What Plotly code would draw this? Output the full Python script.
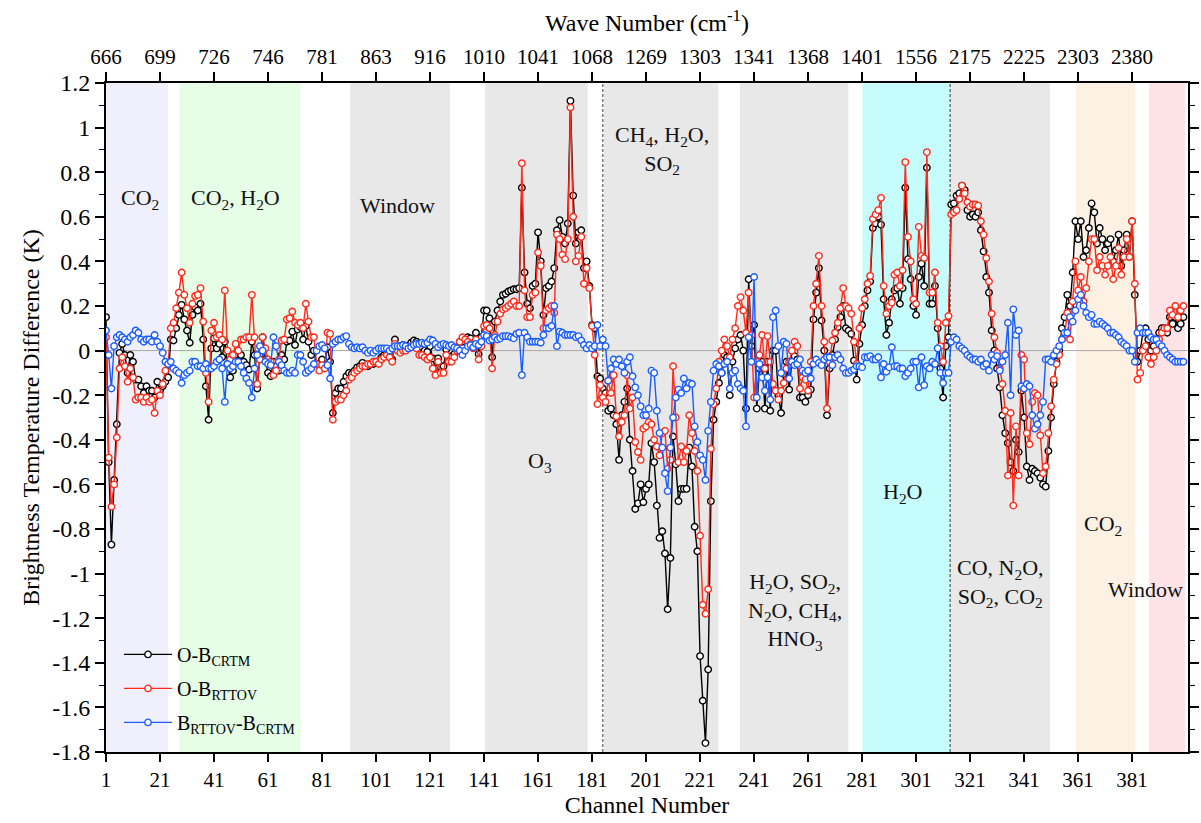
import plotly.graph_objects as go

channels = list(range(1, 401))

ob_crtm = [
    0.15, -0.50, -0.87, -0.58, -0.33, -0.01, 0.03, -0.02, -0.10, -0.02,
    -0.05, -0.13, -0.13, -0.16, -0.19, -0.16, -0.18, -0.18, -0.21, -0.14,
    -0.18, -0.16, -0.14, -0.12, 0.05, 0.045, 0.10, 0.16, 0.205, 0.14,
    0.09, 0.035, 0.16, 0.195, 0.18, 0.21, 0.05, -0.16, -0.31, 0.01,
    0.055, 0.01, 0.03, -0.03, 0.04, -0.06, -0.12, -0.09, -0.02, -0.05,
    -0.02, -0.05, -0.065, -0.085, 0.04, -0.02, -0.17, -0.02, 0.06, -0.04,
    -0.10, -0.115, -0.05, -0.07, -0.09, -0.02, -0.04, 0.04, 0.045, 0.085,
    0.025, 0.095, 0.105, 0.05, 0.11, 0.04, -0.02, 0.0, -0.06, -0.07,
    -0.04, -0.07, 0.015, -0.05, -0.28, -0.19, -0.17, -0.17, -0.14, -0.115,
    -0.10, -0.105, -0.09, -0.075, -0.07, -0.055, -0.07, -0.07, -0.06, -0.06,
    -0.05, -0.05, -0.03, -0.02, -0.01, -0.03, -0.04, 0.05, 0.02, 0.01,
    0.025, 0.02, 0.02, 0.035, 0.045, 0.04, 0.01, 0.015, 0.0, -0.005,
    0.02, -0.035, -0.08, -0.035, -0.075, -0.07, 0.005, -0.03, -0.025, -0.015,
    0.01, 0.04, 0.04, 0.05, 0.06, 0.055, 0.025, 0.08, -0.015, 0.06,
    0.18, 0.18, 0.145, -0.03, 0.13, 0.18, 0.22, 0.25, 0.255, 0.265,
    0.27, 0.275, 0.275, 0.28, 0.73, 0.35, 0.21, 0.19, 0.29, 0.30,
    0.53, 0.40, 0.16, 0.28, 0.29, 0.31, 0.37, 0.54, 0.585, 0.51,
    0.48, 0.57, 1.12, 0.695, 0.48, 0.53, 0.54, 0.37, 0.40, 0.29,
    0.115, 0.10, -0.115, -0.125, -0.17, -0.19, -0.27, -0.26, -0.29, -0.33,
    -0.49, -0.29, -0.23, -0.17, -0.40, -0.54, -0.71, -0.685, -0.60, -0.68,
    -0.62, -0.60, -0.415, -0.50, -0.695, -0.84, -0.81, -0.91, -1.16, -0.93,
    -0.385, -0.51, -0.675, -0.62, -0.62, -0.62, -0.435, -0.52, -0.79, -0.90,
    -1.37, -1.57, -1.76, -1.43, -0.675, -0.31, -0.23, -0.145, -0.10, -0.02,
    -0.03, -0.20, -0.05, 0.01, 0.05, 0.07, 0.0, -0.26, 0.32, 0.02,
    0.115, -0.26, -0.08, -0.05, -0.26, -0.05, -0.27, 0.0, 0.0, -0.20,
    -0.28, -0.105, -0.05, -0.175, -0.05, -0.025, -0.04, -0.21, -0.21, -0.23,
    -0.20, -0.175, 0.14, 0.26, 0.37, 0.135, 0.0, -0.29, -0.08, -0.02,
    0.05, 0.105, 0.15, 0.20, 0.10, 0.09, 0.075, -0.045, -0.13, 0.03,
    0.115, 0.20, 0.27, 0.31, 0.55, 0.57, 0.60, 0.565, 0.23, 0.07,
    0.125, 0.23, 0.27, 0.28, 0.21, 0.28, 0.73, 0.41, 0.32, 0.20,
    0.16, 0.33, 0.39, 0.29, 0.82, 0.21, 0.21, 0.29, 0.10, -0.08,
    -0.21, 0.02, 0.06, 0.655, 0.66, 0.695, 0.705, 0.74, 0.72, 0.63,
    0.60, 0.61, 0.60, 0.62, 0.54, 0.445, 0.33, 0.26, 0.09, 0.0,
    -0.08, -0.165, -0.29, -0.37, -0.415, -0.50, -0.54, -0.40, -0.455, -0.18,
    -0.30, -0.52, -0.58, -0.53, -0.54, -0.55, -0.57, -0.60, -0.61, -0.45,
    -0.30, -0.15, -0.05, 0.0, 0.10, 0.15, 0.25, 0.20, 0.35, 0.58,
    0.50, 0.58, 0.42, 0.45, 0.55, 0.66, 0.62, 0.48, 0.55, 0.50,
    0.45, 0.48, 0.50, 0.40, 0.45, 0.52, 0.38, 0.45, 0.52, 0.42,
    0.58, 0.25, -0.05, 0.0, 0.08, 0.10, 0.05, 0.0, 0.02, 0.05,
    0.08, 0.10, 0.10, 0.08, 0.15, 0.12, 0.15, 0.10, 0.12, 0.15,
]

ob_rttov = [
    0.06, -0.48, -0.70, -0.60, -0.39, -0.08, -0.03, -0.07, -0.14, -0.08,
    -0.12, -0.22, -0.21, -0.21, -0.23, -0.21, -0.23, -0.22, -0.28, -0.18,
    -0.20, -0.15, -0.09, -0.06, 0.10, 0.125, 0.19, 0.26, 0.35, 0.25,
    0.19, 0.125, 0.21, 0.245, 0.25, 0.28, 0.13, -0.10, -0.23, 0.09,
    0.125, 0.06, 0.07, 0.05, 0.27, 0.0, -0.04, -0.02, 0.03, 0.0,
    0.05, 0.05, 0.06, 0.06, 0.25, 0.06, -0.15, -0.04, 0.06, 0.01,
    -0.04, -0.05, -0.11, -0.09, -0.04, 0.045, 0.05, 0.14, 0.145, 0.175,
    0.125, 0.115, 0.125, 0.10, 0.21, 0.13, 0.06, 0.06, -0.06, -0.09,
    -0.065, -0.08, 0.08, 0.075, -0.31, -0.23, -0.22, -0.22, -0.20, -0.18,
    -0.13, -0.12, -0.10, -0.09, -0.08, -0.07, -0.07, -0.06, -0.06, -0.05,
    -0.05, -0.06, -0.04, -0.03, -0.02, -0.03, -0.05, 0.03, 0.0, -0.01,
    0.0, 0.0, 0.01, 0.02, 0.02, 0.01, -0.02, -0.02, -0.03, -0.04,
    -0.03, -0.08, -0.11, -0.05, -0.10, -0.10, -0.02, -0.05, -0.05, -0.03,
    0.0, 0.04, 0.06, 0.05, 0.04, 0.03, 0.01, 0.05, -0.04, 0.02,
    0.11, 0.115, 0.10, -0.08, 0.07, 0.13, 0.165, 0.185, 0.19, 0.20,
    0.21, 0.22, 0.20, 0.20, 0.84, 0.27, 0.15, 0.15, 0.25, 0.26,
    0.44, 0.38, 0.10, 0.18, 0.19, 0.20, 0.17, 0.52, 0.50, 0.43,
    0.41, 0.50, 1.09, 0.60, 0.40, 0.425, 0.51, 0.30, 0.37, 0.28,
    0.11, -0.02, -0.24, -0.155, -0.21, -0.23, -0.135, -0.19, -0.11, -0.295,
    -0.385, -0.32, -0.29, -0.11, -0.26, -0.21, -0.41, -0.455, -0.49, -0.35,
    -0.34, -0.32, -0.33, -0.40, -0.43, -0.47, -0.37, -0.36, -0.53, -0.49,
    -0.07, -0.30, -0.50, -0.43, -0.50, -0.45, -0.29, -0.37, -0.45, -0.54,
    -0.83, -1.14, -1.18, -1.07, -0.44, -0.24, -0.17, -0.05, 0.0, 0.05,
    0.02, -0.03, 0.05, 0.10, 0.20, 0.24, 0.18, 0.08, 0.26, 0.07,
    -0.21, -0.05, -0.02, 0.07, -0.08, 0.065, -0.05, -0.15, -0.18, -0.22,
    -0.18, -0.145, -0.08, -0.05, 0.0, 0.04, 0.02, -0.17, -0.12, -0.13,
    -0.18, -0.05, 0.20, 0.30, 0.425, 0.20, 0.04, -0.26, -0.05, 0.045,
    0.08, 0.125, 0.19, 0.28, 0.20, 0.19, 0.165, 0.04, -0.06, 0.10,
    0.19, 0.23, 0.30, 0.335, 0.59, 0.61, 0.63, 0.685, 0.29, 0.165,
    0.20, 0.215, 0.34, 0.35, 0.29, 0.36, 0.845, 0.51, 0.40, 0.23,
    0.21, 0.555, 0.425, 0.415, 0.89, 0.26, 0.26, 0.35, 0.125, 0.02,
    -0.05, 0.125, 0.155, 0.61, 0.62, 0.63, 0.68, 0.74, 0.705, 0.665,
    0.645, 0.655, 0.655, 0.65, 0.58, 0.52, 0.415, 0.31, 0.165, 0.06,
    -0.01, -0.08, -0.15, -0.27, -0.56, -0.28, -0.695, -0.34, -0.56, -0.02,
    -0.04, -0.37, -0.42, -0.23, -0.19, -0.20, -0.38, -0.55, -0.52, -0.37,
    -0.25, -0.13, -0.06, -0.02, 0.05, 0.07, 0.17, 0.05, 0.22, 0.40,
    0.27, 0.33, 0.22, 0.28, 0.40, 0.50, 0.50, 0.36, 0.42, 0.38,
    0.34, 0.38, 0.42, 0.32, 0.38, 0.46, 0.34, 0.42, 0.50, 0.42,
    0.58, 0.30, -0.13, -0.10, 0.0, 0.02, -0.03, -0.06, -0.03, 0.0,
    0.05, 0.08, 0.10, 0.10, 0.18, 0.16, 0.20, 0.15, 0.18, 0.20,
]

b_rttov_crtm = [
    0.09, -0.02, -0.17, 0.02, 0.06, 0.07, 0.06, 0.05, 0.04, 0.06,
    0.07, 0.09, 0.08, 0.05, 0.04, 0.05, 0.05, 0.04, 0.07, 0.04,
    0.02, -0.01, -0.05, -0.06, -0.05, -0.08, -0.09, -0.10, -0.145, -0.11,
    -0.10, -0.09, -0.05, -0.05, -0.07, -0.07, -0.08, -0.06, -0.08, -0.08,
    -0.07, -0.05, -0.04, -0.08, -0.23, -0.06, -0.08, -0.07, -0.05, -0.05,
    -0.07, -0.10, -0.125, -0.145, -0.21, -0.08, -0.02, 0.02, 0.0, -0.05,
    -0.06, -0.065, 0.06, 0.02, -0.05, -0.065, -0.09, -0.10, -0.10, -0.09,
    -0.10, -0.02, -0.02, -0.05, -0.10, -0.09, -0.08, -0.06, 0.0, 0.02,
    0.025, 0.01, -0.065, -0.125, 0.03, 0.04, 0.05, 0.05, 0.06, 0.065,
    0.03, 0.015, 0.01, 0.015, 0.01, 0.015, 0.0, -0.01, 0.0, -0.01,
    0.0, 0.01, 0.01, 0.01, 0.01, 0.0, 0.01, 0.02, 0.02, 0.02,
    0.025, 0.02, 0.01, 0.015, 0.025, 0.03, 0.03, 0.035, 0.03, 0.035,
    0.05, 0.045, 0.03, 0.015, 0.025, 0.03, 0.025, 0.02, 0.025, 0.015,
    0.01, 0.0, -0.02, 0.0, 0.02, 0.025, 0.015, 0.03, 0.025, 0.04,
    0.07, 0.065, 0.045, 0.05, 0.06, 0.05, 0.055, 0.065, 0.065, 0.065,
    0.06, 0.055, 0.075, 0.08, -0.11, 0.08, 0.06, 0.04, 0.04, 0.04,
    0.04, 0.035, 0.07, 0.10, 0.10, 0.11, 0.20, 0.02, 0.085, 0.08,
    0.07, 0.07, 0.07, 0.07, 0.06, 0.065, 0.045, 0.025, 0.01, 0.025,
    0.01, 0.02, 0.115, 0.02, 0.05, 0.02, -0.135, -0.08, -0.04, -0.06,
    -0.04, -0.07, -0.10, -0.05, -0.03, -0.115, -0.165, -0.20, -0.25, -0.29,
    -0.29, -0.26, -0.09, -0.10, -0.27, -0.37, -0.435, -0.55, -0.63, -0.435,
    -0.30, -0.21, -0.175, -0.19, -0.125, -0.17, -0.145, -0.15, -0.34, -0.41,
    -0.47, -0.49, -0.58, -0.36, -0.23, -0.09, -0.06, -0.07, -0.10, -0.06,
    -0.05, -0.17, -0.10, -0.09, -0.15, -0.17, -0.18, -0.34, 0.06, -0.05,
    0.33, -0.21, -0.06, -0.12, -0.18, -0.12, -0.22, 0.15, 0.18, 0.02,
    -0.10, 0.04, 0.03, -0.125, -0.05, -0.065, -0.06, -0.04, -0.09, -0.10,
    -0.09, -0.125, -0.06, -0.04, -0.055, -0.065, -0.04, -0.03, -0.03, -0.065,
    -0.03, -0.02, -0.04, -0.08, -0.10, -0.10, -0.09, -0.085, -0.07, -0.07,
    -0.075, -0.03, -0.03, -0.025, -0.04, -0.04, -0.03, -0.12, -0.06, -0.095,
    -0.075, 0.015, -0.07, -0.07, -0.08, -0.08, -0.115, -0.10, -0.08, -0.05,
    -0.05, -0.165, -0.03, -0.155, -0.07, -0.08, -0.05, -0.06, 0.01, -0.10,
    -0.145, -0.10, -0.10, 0.04, 0.06, 0.05, 0.02, 0.01, 0.0, -0.02,
    -0.03, -0.04, -0.04, -0.05, -0.04, -0.07, -0.06, -0.09, -0.02, -0.04,
    -0.025, -0.09, -0.05, -0.02, 0.125, -0.20, 0.185, 0.07, 0.09, -0.16,
    -0.17, -0.15, -0.16, -0.29, -0.35, -0.33, -0.29, -0.23, -0.04, -0.04,
    -0.05, -0.02, 0.0, 0.02, 0.05, 0.08, 0.08, 0.15, 0.13, 0.18,
    0.23, 0.25, 0.20, 0.17, 0.15, 0.16, 0.12, 0.12, 0.13, 0.12,
    0.11, 0.10, 0.08, 0.08, 0.07, 0.06, 0.04, 0.03, 0.02, 0.0,
    0.0, -0.05, 0.08, 0.10, 0.08, 0.08, 0.08, 0.06, 0.05, 0.05,
    0.03, 0.02, 0.0, -0.02, -0.03, -0.04, -0.05, -0.05, -0.05, -0.05,
]

x_tickvals = [1, 21, 41, 61, 81, 101, 121, 141, 161, 181, 201, 221, 241, 261, 281, 301, 321, 341, 361, 381]
x_ticktext = [str(v) for v in x_tickvals]
wave_ticktext = ["666", "699", "726", "746", "781", "863", "916", "1010", "1041", "1068",
                 "1269", "1303", "1341", "1368", "1401", "1556", "2175", "2225", "2303", "2380"]
y_tickvals = [1.2, 1.0, 0.8, 0.6, 0.4, 0.2, 0.0, -0.2, -0.4, -0.6, -0.8, -1.0, -1.2, -1.4, -1.6, -1.8]
y_ticktext = ["1.2", "1", "0.8", "0.6", "0.4", "0.2", "0", "-0.2", "-0.4", "-0.6", "-0.8", "-1",
              "-1.2", "-1.4", "-1.6", "-1.8"]
y_minor = [1.1, 0.9, 0.7, 0.5, 0.3, 0.1, -0.1, -0.3, -0.5, -0.7, -0.9, -1.1, -1.3, -1.5, -1.7]

band_start = [1, 28.2, 91.4, 141.4, 185.4, 235.8, 281.1, 313.6, 360.3, 387.3]
band_end = [24.0, 73.1, 128.4, 179.4, 227.8, 275.9, 313.6, 350.6, 382.1, 400.6]
band_color = ["#f0f0fc", "#e6fde6", "#e8e8e8", "#e8e8e8", "#e8e8e8", "#e8e8e8",
              "#c6fcfc", "#e8e8e8", "#fdf1e4", "#fde3e5"]
dashed_at = [185.0, 313.6]

labels = [
    (13.6, 0.68, "CO<sub>2</sub>"),
    (48.8, 0.68, "CO<sub>2</sub>, H<sub>2</sub>O"),
    (109.0, 0.65, "Window"),
    (161.7, -0.50, "O<sub>3</sub>"),
    (206.9, 0.90, "CH<sub>4</sub>, H<sub>2</sub>O,<br>SO<sub>2</sub>"),
    (256.2, -1.17, "H<sub>2</sub>O, SO<sub>2</sub>,<br>N<sub>2</sub>O, CH<sub>4</sub>,<br>HNO<sub>3</sub>"),
    (295.8, -0.64, "H<sub>2</sub>O"),
    (332.1, -1.04, "CO, N<sub>2</sub>O,<br>SO<sub>2</sub>, CO<sub>2</sub>"),
    (370.3, -0.78, "CO<sub>2</sub>"),
    (385.8, -1.07, "Window"),
]

XR = [1, 401.7]
FONT = "Liberation Serif"

fig = go.Figure()

series = [
    ("O-B<sub>CRTM</sub>", ob_crtm, "#000000"),
    ("O-B<sub>RTTOV</sub>", ob_rttov, "#ff2a1a"),
    ("B<sub>RTTOV</sub>-B<sub>CRTM</sub>", b_rttov_crtm, "#1a5cff"),
]
for i, (name, vals, col) in enumerate(series):
    fig.add_trace(go.Scatter(
        x=channels, y=vals, name=name, mode="lines+markers", legendgroup=f"g{i}",
        line=dict(color=col, width=1.4),
        marker=dict(symbol="circle", size=6.5, color="white", line=dict(color=col, width=1.4)),
    ))

# invisible trace to activate the top axis
fig.add_trace(go.Scatter(x=[XR[0]], y=[0], xaxis="x2", mode="markers",
                         marker=dict(opacity=0), showlegend=False, hoverinfo="skip"))

shapes = []
for s, e, c in zip(band_start, band_end, band_color):
    shapes.append(dict(type="rect", xref="x", yref="paper", x0=s, x1=e, y0=0, y1=1,
                       fillcolor=c, line=dict(width=0), layer="below"))
shapes.append(dict(type="line", xref="paper", yref="y", x0=0, x1=1, y0=0, y1=0,
                   line=dict(color="#a8a8a8", width=1), layer="below"))
for d in dashed_at:
    shapes.append(dict(type="line", xref="x", yref="paper", x0=d, x1=d, y0=0, y1=1,
                       line=dict(color="#333333", width=1, dash="3px,2px"), layer="below"))

annotations = []
for cx, cy, txt in labels:
    annotations.append(dict(x=cx, y=cy, xref="x", yref="y", text=txt, showarrow=False,
                            font=dict(family=FONT, size=22, color="#111111"),
                            xanchor="center", yanchor="middle", align="center"))

fig.update_layout(
    template="none",
    width=1201, height=823,
    margin=dict(l=106, r=13, t=83, b=71, autoexpand=False),
    plot_bgcolor="white", paper_bgcolor="white",
    font=dict(family=FONT, size=22, color="black"),
    shapes=shapes, annotations=annotations,
    showlegend=True,
    legend=dict(x=0.012, y=0.175, xanchor="left", yanchor="top",
                bgcolor="rgba(0,0,0,0)", borderwidth=0, font=dict(family=FONT, size=20),
                tracegroupgap=5, itemwidth=48),
    xaxis=dict(range=XR, tickmode="array", tickvals=x_tickvals, ticktext=x_ticktext,
               ticks="outside", ticklen=8, tickwidth=1.5, tickcolor="black", automargin=False,
               showline=True, linewidth=2, linecolor="black", showgrid=False, zeroline=False,
               tickfont=dict(family=FONT, size=21),
               title=dict(text="Channel Number", font=dict(family=FONT, size=24), standoff=4)),
    xaxis2=dict(range=XR, overlaying="x", side="top", anchor="y", tickmode="array",
                tickvals=x_tickvals, ticktext=wave_ticktext, automargin=False,
                ticks="outside", ticklen=9, tickwidth=1.5, tickcolor="black",
                showline=True, linewidth=2, linecolor="black", showgrid=False, zeroline=False,
                tickfont=dict(family=FONT, size=21),
                title=dict(text="Wave Number (cm<sup>-1</sup>)", font=dict(family=FONT, size=24), standoff=6)),
    yaxis=dict(range=[-1.8, 1.2], tickmode="array", tickvals=y_tickvals, ticktext=y_ticktext,
               ticks="outside", ticklen=9, tickwidth=1.5, tickcolor="black", automargin=False,
               minor=dict(tickmode="array", tickvals=y_minor, ticks="outside", ticklen=5,
                          tickwidth=1.2, tickcolor="black", showgrid=False),
               showline=True, linewidth=2, linecolor="black", mirror="ticks",
               showgrid=False, zeroline=False,
               tickfont=dict(family=FONT, size=24),
               title=dict(text="Brightness Temperature Difference (K)",
                          font=dict(family=FONT, size=24), standoff=6)),
)

fig.write_html("out.html")
